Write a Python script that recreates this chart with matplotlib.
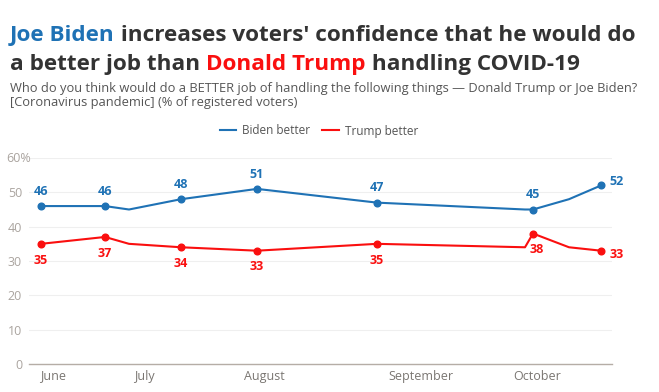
import matplotlib
matplotlib.use("Agg")
import matplotlib.pyplot as plt

plt.rcParams['font.family'] = ['Open Sans', 'DejaVu Sans']

# days since June 1
days = [3, 19, 25, 38, 57, 87, 124, 126, 135, 143]
biden = [46, 46, 45, 48, 51, 47, 45, 45, 48, 52]
trump = [35, 37, 35, 34, 33, 35, 34, 38, 34, 33]
marked = [0, 1, 3, 4, 5, 7, 9]

month_pos = [6, 28.75, 58.75, 98, 127]
month_names = ["June", "July", "August", "September", "October"]
y_ticks = [0, 10, 20, 30, 40, 50, 60]
y_labels = ["0", "10", "20", "30", "40", "50", ""]

blue = "#1f72b5"
red = "#fa0f0f"
grey = "#aaa49f"

fig = plt.figure(figsize=(6.59, 3.92), dpi=100)
ax = fig.add_axes([29 / 659, 28 / 392, 583 / 659, 206 / 392])

ax.plot(days, biden, color=blue, lw=1.5, label="Biden better", zorder=3)
ax.plot(days, trump, color=red, lw=1.5, label="Trump better", zorder=3)
ax.plot([days[i] for i in marked], [biden[i] for i in marked], "o", color=blue, ms=4.8, zorder=4)
ax.plot([days[i] for i in marked], [trump[i] for i in marked], "o", color=red, ms=4.8, zorder=4)

last = len(days) - 1
for i in marked:
    if i == last:
        ax.annotate(str(biden[i]), (days[i], biden[i]), xytext=(6, 3), textcoords="offset points",
                    ha="left", va="center", color=blue, fontsize=9, fontweight="bold")
        ax.annotate(str(trump[i]), (days[i], trump[i]), xytext=(6, -3), textcoords="offset points",
                    ha="left", va="center", color=red, fontsize=9, fontweight="bold")
        continue
    ax.annotate(str(biden[i]), (days[i], biden[i]), xytext=(0, 6), textcoords="offset points",
                ha="center", va="bottom", color=blue, fontsize=9, fontweight="bold")
    ax.annotate(str(trump[i]), (days[i], trump[i]), xytext=(3 if i == 7 else 0, -7), textcoords="offset points",
                ha="center", va="top", color=red, fontsize=9, fontweight="bold")

ax.set_xlim(0, 145.75)
ax.set_ylim(0, 60)
ax.set_yticks(y_ticks)
ax.set_yticklabels(y_labels)
ax.set_xticks(month_pos)
ax.set_xticklabels(month_names)
ax.tick_params(axis="y", length=0, pad=5, labelsize=9, labelcolor=grey)
ax.tick_params(axis="x", length=0, pad=4, labelsize=9, labelcolor="#7a7672")
# the top label sticks out a little past the others
ax.annotate("60%", (0, 60), xycoords=ax.get_yaxis_transform(), xytext=(1.5, 0), textcoords="offset points",
            ha="right", va="center", fontsize=9, color=grey, annotation_clip=False)
ax.grid(axis="y", color="#efefef", lw=0.8)
ax.set_axisbelow(True)
for s in ["top", "right", "left"]:
    ax.spines[s].set_visible(False)
ax.spines["bottom"].set_color("#b5ada6")
ax.spines["bottom"].set_linewidth(1)

leg = fig.legend(loc="center", bbox_to_anchor=(319 / 659, 1 - 131 / 392), ncol=2, frameon=False,
                 fontsize=8.5, handlelength=1.4, handletextpad=0.5, columnspacing=1.0)
for t in leg.get_texts():
    t.set_color("#555555")

# title, pieced together so the names get their own colours
parts = [[("Joe Biden", blue), (" increases voters' confidence that he would do", "#333333")],
         [("a better job than ", "#333333"), ("Donald Trump", red), (" handling COVID-19", "#333333")]]
for row, y in zip(parts, [1 - 41 / 392, 1 - 70 / 392]):
    prev = None
    for txt, col in row:
        if prev is None:
            prev = fig.text(10 / 659, y, txt, color=col, fontsize=16.2, fontweight="bold", va="baseline")
        else:
            prev = ax.annotate(txt, xy=(1, 0), xycoords=prev, color=col, fontsize=16.2,
                               fontweight="bold", va="bottom", annotation_clip=False)

fig.text(10 / 659, 1 - 92 / 392,
         "Who do you think would do a BETTER job of handling the following things \u2014 Donald Trump or Joe Biden?",
         fontsize=9.3, color="#555555", va="baseline")
fig.text(10 / 659, 1 - 106 / 392, "[Coronavirus pandemic] (% of registered voters)",
         fontsize=9.3, color="#555555", va="baseline")

fig.savefig("out.png", dpi=100)
